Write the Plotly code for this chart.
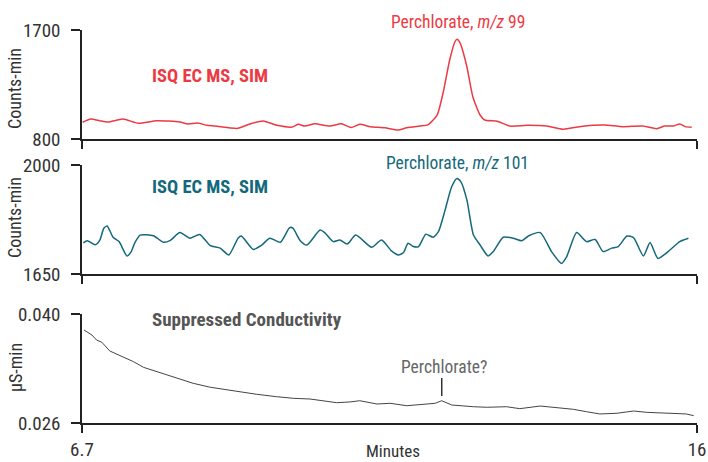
import plotly.graph_objects as go

# ---------------- data ----------------
ms99_time = [6.71, 6.83, 6.97, 7.09, 7.32, 7.55, 7.83, 8.18, 8.30, 8.45, 8.59, 8.71, 8.94, 9.06,
             9.24, 9.44, 9.65, 9.88, 9.97, 10.07, 10.22, 10.45, 10.62, 10.77, 10.90, 11.06, 11.28,
             11.48, 11.61, 11.81, 11.93, 12.07, 12.16, 12.26, 12.34, 12.37, 12.42, 12.52, 12.61,
             12.72, 12.79, 12.98, 13.17, 13.43, 13.73, 13.97, 14.12, 14.43, 14.61, 14.88, 15.18,
             15.39, 15.51, 15.64, 15.74, 15.82, 15.92]
ms99_counts = [938, 965, 951, 940, 965, 930, 951, 940, 924, 932, 913, 907, 891, 888,
               924, 949, 913, 899, 921, 907, 926, 907, 926, 895, 921, 902, 893,
               874, 893, 907, 916, 998, 1180, 1452, 1603, 1623, 1590, 1397, 1149,
               998, 957, 946, 907, 913, 907, 880, 893, 913, 916, 902, 907,
               885, 907, 907, 924, 902, 897]

ms101_time = [6.72, 6.78, 6.90, 6.97, 7.03, 7.08, 7.17, 7.26, 7.38, 7.44, 7.50, 7.58, 7.78, 7.93,
              8.03, 8.18, 8.33, 8.48, 8.64, 8.79, 8.92, 9.06, 9.11, 9.29, 9.42, 9.54, 9.70,
              9.84, 9.89, 10.00, 10.10, 10.30, 10.37, 10.50, 10.60, 10.71, 10.84, 11.08, 11.23,
              11.38, 11.48, 11.56, 11.63, 11.71, 11.79, 11.90, 12.01, 12.09, 12.19, 12.29, 12.37,
              12.43, 12.52, 12.62, 12.72, 12.84, 12.92, 13.07, 13.22, 13.35, 13.45, 13.63, 13.80,
              13.95, 14.03, 14.18, 14.33, 14.46, 14.58, 14.71, 14.81, 14.94, 15.04, 15.19, 15.29,
              15.41, 15.59, 15.74, 15.87]
ms101_counts = [1750, 1757, 1744, 1759, 1797, 1804, 1768, 1754, 1708, 1720, 1751, 1775, 1773, 1752,
                1757, 1783, 1765, 1777, 1741, 1733, 1711, 1765, 1772, 1729, 1743, 1765, 1752,
                1799, 1797, 1757, 1743, 1791, 1783, 1754, 1759, 1746, 1775, 1736, 1759,
                1724, 1711, 1718, 1749, 1738, 1738, 1778, 1768, 1786, 1855, 1930, 1957,
                1946, 1888, 1775, 1743, 1708, 1722, 1768, 1765, 1757, 1772, 1783, 1722,
                1684, 1706, 1783, 1754, 1761, 1722, 1733, 1738, 1772, 1767, 1708, 1751,
                1700, 1727, 1754, 1765]

cd_time = [6.73, 6.85, 6.92, 7.00, 7.12, 7.32, 7.48, 7.63, 7.88, 8.13, 8.38, 8.64, 8.89, 9.09,
           9.34, 9.64, 9.90, 10.15, 10.35, 10.55, 10.75, 10.90, 11.16, 11.36, 11.61, 11.86,
           12.04, 12.14, 12.29, 12.62, 12.82, 13.12, 13.32, 13.63, 13.88, 14.13, 14.33, 14.53,
           14.79, 15.04, 15.24, 15.49, 15.69, 15.84, 15.95]
cd_signal = [0.03795, 0.03730, 0.03666, 0.03637, 0.03525, 0.03452, 0.03387, 0.03315, 0.03246,
             0.03174, 0.03110, 0.03059, 0.03024, 0.03002, 0.02969, 0.02938, 0.02917, 0.02908,
             0.02883, 0.02861, 0.02870, 0.02886, 0.02844, 0.02853, 0.02822, 0.02840, 0.02853,
             0.02886, 0.02831, 0.02809, 0.02802, 0.02809, 0.02784, 0.02818, 0.02797, 0.02776,
             0.02745, 0.02716, 0.02725, 0.02754, 0.02737, 0.02732, 0.02725, 0.02716, 0.02694]

x_range = [6.7, 16]
x_ticks = [6.7, 16]
x_ticklabels = ["6.7", "16"]
y1_range = [800, 1700]
y2_range = [1650, 2000]
y3_range = [0.026, 0.040]
y3_ticklabels = ["0.026", "0.040"]
perchlorate_cd_time = 12.14
perchlorate_marker = [0.02947, 0.03178]

RED = "#ec3a43"
TEAL = "#13697b"
GRAY = "#555555"
AXIS = "#222222"
FONT = "Roboto Condensed, Roboto, Arial, sans-serif"

fig = go.Figure()
fig.add_trace(go.Scatter(x=ms99_time, y=ms99_counts, mode="lines",
                         line=dict(color=RED, width=1.5, shape="spline", smoothing=0.6),
                         xaxis="x", yaxis="y", hoverinfo="skip"))
fig.add_trace(go.Scatter(x=ms101_time, y=ms101_counts, mode="lines",
                         line=dict(color=TEAL, width=1.5, shape="spline", smoothing=0.6),
                         xaxis="x2", yaxis="y2", hoverinfo="skip"))
fig.add_trace(go.Scatter(x=cd_time, y=cd_signal, mode="lines",
                         line=dict(color="#444444", width=1),
                         xaxis="x3", yaxis="y3", hoverinfo="skip"))
# marker line for Perchlorate?
fig.add_trace(go.Scatter(x=[perchlorate_cd_time, perchlorate_cd_time], y=perchlorate_marker,
                         mode="lines", line=dict(color="#333333", width=1.5),
                         xaxis="x3", yaxis="y3", hoverinfo="skip"))

common_x = dict(range=x_range, tickvals=x_ticks, ticktext=x_ticklabels, ticks="outside",
                ticklen=8, tickwidth=1.5, tickcolor=AXIS, showline=True, linecolor=AXIS,
                linewidth=1.5, showgrid=False, zeroline=False, domain=[0, 1], automargin=False,
                tickfont=dict(family=FONT, size=19, color="#333333"))
common_y = dict(ticks="outside", ticklen=9, tickwidth=1.5, tickcolor=AXIS, showline=True,
                linecolor=AXIS, linewidth=1.5, showgrid=False, zeroline=False, automargin=False,
                tickfont=dict(family=FONT, size=19, color="#333333"), ticklabelstandoff=7)

d1 = [(423 - 139) / 393, 1.0]
d2 = [(423 - 274) / 393, (423 - 165) / 393]
d3 = [0.0, (423 - 314) / 393]

fig.update_layout(
    width=708, height=462,
    margin=dict(l=82, r=11, t=30, b=39),
    paper_bgcolor="white", plot_bgcolor="white",
    showlegend=False,
    xaxis=dict(common_x, anchor="y", showticklabels=False),
    xaxis2=dict(common_x, anchor="y2", showticklabels=False),
    xaxis3=dict(common_x, anchor="y3", showticklabels=True),
    yaxis=dict(common_y, range=y1_range, tickvals=y1_range, domain=d1, anchor="x"),
    yaxis2=dict(common_y, range=y2_range, tickvals=y2_range, domain=d2, anchor="x2"),
    yaxis3=dict(common_y, range=y3_range, tickvals=y3_range, ticktext=y3_ticklabels,
                domain=d3, anchor="x3"),
)

def ann(text, x, y, color, size, bold=False, **kw):
    fig.add_annotation(text=f"<b>{text}</b>" if bold else text, x=x, y=y,
                       xref="paper", yref="paper", showarrow=False,
                       xanchor="center", yanchor="middle",
                       font=dict(family=FONT, size=size, color=color), **kw)

ann("ISQ EC MS, SIM", 0.208, 0.883, RED, 18.5, bold=True)
ann("Perchlorate, <i>m/z</i> 99", 0.611, 1.021, RED, 17.5)
ann("ISQ EC MS, SIM", 0.208, 0.6005, TEAL, 18.5, bold=True)
ann("Perchlorate, <i>m/z</i> 101", 0.6098, 0.6616, TEAL, 17.5)
ann("Suppressed Conductivity", 0.2675, 0.2646, GRAY, 19, bold=True)
ann("Perchlorate?", 0.5894, 0.1425, "#666666", 17.5)
ann("Minutes", 0.5057, -0.0712, "#333333", 17)

for text, yc in [("Counts-min", (423 - 89) / 393), ("Counts-min", (423 - 218) / 393),
                 ("µS-min", (423 - 368) / 393)]:
    fig.add_annotation(text=text, x=0, y=yc, xref="paper", yref="paper", xanchor="center",
                       yanchor="middle", xshift=-67, textangle=-90, showarrow=False,
                       font=dict(family=FONT, size=18, color="#333333"))

fig.write_html("out.html", config={"displayModeBar": False},
               post_script="document.body.style.margin='0';document.body.style.padding='0';")
